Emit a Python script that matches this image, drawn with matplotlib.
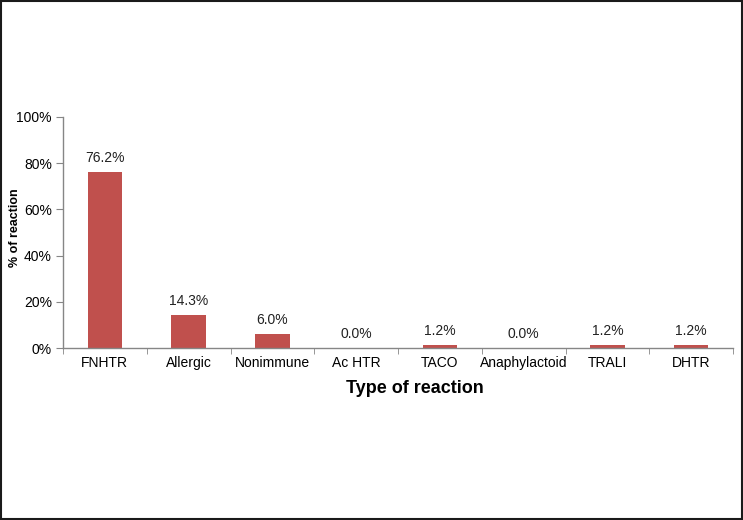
import matplotlib.pyplot as plt
from matplotlib.patches import Rectangle
from matplotlib.ticker import FuncFormatter

categories = ["FNHTR", "Allergic", "Nonimmune", "Ac HTR", "TACO",
              "Anaphylactoid", "TRALI", "DHTR"]
percent = [76.2, 14.3, 6.0, 0.0, 1.2, 0.0, 1.2, 1.2]
yticks = [0, 20, 40, 60, 80, 100]

plt.rcParams['font.family'] = ['Liberation Sans', 'DejaVu Sans']

fig = plt.figure(figsize=(7.43, 5.20), dpi=100, facecolor='white')
ax = fig.add_axes([63 / 743, 1 - 348 / 520, 670 / 743, 231 / 520])

x = range(len(categories))
ax.bar(x, percent, width=0.41, color='#C0504D', zorder=2)
for xi, v in zip(x, percent):
    ax.annotate(f"{v:.1f}%", (xi, v), xytext=(0, 5), textcoords='offset points',
                ha='center', va='bottom', fontsize=10, color='#222222')

ax.set_xlim(-0.5, len(categories) - 0.5)
ax.set_ylim(0, 100)
ax.set_yticks(yticks)
ax.yaxis.set_major_formatter(FuncFormatter(lambda v, p: f"{v:.0f}%"))
ax.set_xticks(list(x))
ax.set_xticklabels(categories, fontsize=10)
ax.set_xticks([i - 0.5 for i in range(len(categories) + 1)], minor=True)
ax.tick_params(axis='x', which='major', length=0, pad=6)
ax.tick_params(axis='x', which='minor', length=4, color='#868686', direction='out')
ax.tick_params(axis='y', length=5, color='#868686', labelsize=10, pad=3)

for side in ['top', 'right']:
    ax.spines[side].set_visible(False)
for side in ['left', 'bottom']:
    ax.spines[side].set_color('#868686')
    ax.spines[side].set_linewidth(1)

ax.set_xlabel("Type of reaction", fontsize=13, fontweight='bold')
ax.xaxis.set_label_coords(0.525, -0.14)
ax.set_ylabel("% of reaction", fontsize=9, fontweight='bold')
ax.yaxis.set_label_coords(-0.062, 0.52)

# dark frame round the whole picture
fig.patches.append(Rectangle((0.001, 0.001), 0.997, 0.997, transform=fig.transFigure,
                             fill=False, edgecolor='#1a1a1a', linewidth=1.5))

fig.savefig('out.png', dpi=100, facecolor='white')
